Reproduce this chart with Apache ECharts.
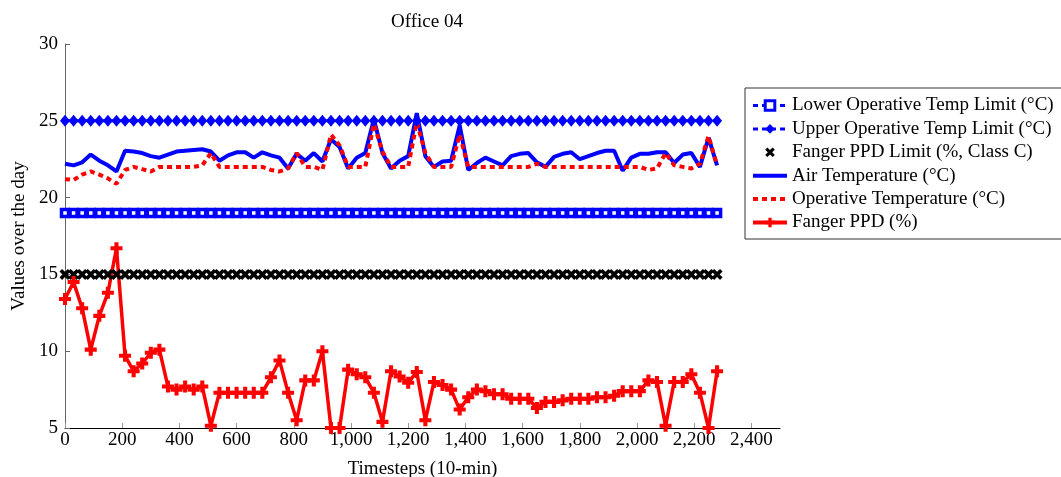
<!DOCTYPE html>
<html lang="en">
<head>
  <meta charset="UTF-8">
  <title>Office 04</title>
  <style>
    html, body { margin: 0; padding: 0; background: #fff; }
    #chart { width: 1061px; height: 477px; }
  </style>
</head>
<body>
  <div id="chart"></div>
  <script src="https://cdn.jsdelivr.net/npm/echarts@6/dist/echarts.min.js"></script>
  <script>
    // timesteps (10-min), one sample every 30 steps
    const timesteps = [
      0, 30, 60, 90, 120, 150, 180, 210, 240, 270, 300, 330, 360, 390, 420, 450,
      480, 510, 540, 570, 600, 630, 660, 690, 720, 750, 780, 810, 840, 870, 900,
      930, 960, 990, 1020, 1050, 1080, 1110, 1140, 1170, 1200, 1230, 1260, 1290,
      1320, 1350, 1380, 1410, 1440, 1470, 1500, 1530, 1560, 1590, 1620, 1650,
      1680, 1710, 1740, 1770, 1800, 1830, 1860, 1890, 1920, 1950, 1980, 2010,
      2040, 2070, 2100, 2130, 2160, 2190, 2220, 2250, 2280
    ]

    const lowerLimit = 19
    const upperLimit = 25
    const ppdLimit = 15

    const airTemp = [
      22.2, 22.1, 22.3, 22.8, 22.4, 22.1, 21.7, 23.05, 23.0, 22.9, 22.7, 22.6,
      22.8, 23.0, 23.05, 23.1, 23.15, 23.0, 22.4, 22.75, 22.95, 22.95, 22.6, 22.95,
      22.75, 22.6, 21.9, 22.85, 22.4, 22.9, 22.35, 23.8, 23.3, 21.9, 22.6, 22.9,
      25.1, 22.9, 21.9, 22.4, 22.7, 25.5, 22.7, 22.0, 22.35, 22.4, 24.7, 21.8,
      22.25, 22.6, 22.35, 22.1, 22.7, 22.85, 22.9, 22.3, 22.0, 22.65, 22.85, 22.95,
      22.5, 22.7, 22.9, 23.05, 23.05, 21.75, 22.6, 22.85, 22.85, 22.95, 22.95, 22.25,
      22.8, 22.9, 22.0, 23.9, 22.1
    ]

    const operativeTemp = [
      21.2, 21.15, 21.5, 21.7, 21.5, 21.25, 20.9, 21.8, 22.0, 21.85, 21.7, 22.0,
      22.0, 22.0, 22.0, 22.0, 22.1, 22.9, 22.0, 22.0, 22.0, 22.0, 22.0, 22.0,
      21.8, 21.7, 21.9, 22.9, 22.0, 22.0, 21.8, 24.1, 23.4, 22.0, 22.0, 22.0,
      24.8, 23.0, 22.0, 22.0, 22.0, 24.9, 22.9, 22.0, 22.0, 22.0, 24.1, 22.0,
      22.0, 22.0, 22.0, 22.0, 22.0, 22.0, 22.0, 22.2, 22.0, 22.0, 22.0, 22.0,
      22.0, 22.0, 22.0, 22.0, 22.0, 22.0, 22.0, 22.0, 21.8, 21.9, 22.9, 22.1,
      22.0, 21.9, 22.2, 24.0, 22.1
    ]

    const fangerPPD = [
      13.4, 14.5, 12.8, 10.1, 12.3, 13.8, 16.7, 9.7, 8.7, 9.2, 9.9, 10.1,
      7.7, 7.5, 7.7, 7.5, 7.7, 5.15, 7.3, 7.3, 7.3, 7.3, 7.3, 7.3,
      8.3, 9.4, 7.3, 5.5, 8.1, 8.1, 10.0, 5.0, 5.0, 8.8, 8.5, 8.3,
      7.3, 5.4, 8.7, 8.35, 7.95, 8.65, 5.5, 8.0, 7.8, 7.5, 6.2, 7.0,
      7.5, 7.4, 7.2, 7.2, 6.9, 6.9, 6.9, 6.3, 6.7, 6.7, 6.8, 6.9,
      6.9, 6.9, 7.0, 7.0, 7.1, 7.4, 7.4, 7.4, 8.1, 8.0, 5.15, 8.0,
      8.0, 8.5, 7.3, 5.0, 8.7
    ]

    const seriesNames = [
      'Lower Operative Temp Limit (°C)',
      'Upper Operative Temp Limit (°C)',
      'Fanger PPD Limit (%, Class C)',
      'Air Temperature (°C)',
      'Operative Temperature (°C)',
      'Fanger PPD (%)'
    ]

    const FONT = 'Liberation Serif'
    const FS = 19
    const BLUE = '#0000ff'
    const RED = '#ff0000'

    const plusPath = 'path://M3.3,0H6.7V3.3H10V6.7H6.7V10H3.3V6.7H0V3.3H3.3Z'
    const crossPath = 'path://M0,2.3L2.3,0L5,2.7L7.7,0L10,2.3L7.3,5L10,7.7L7.7,10L5,7.3L2.3,10L0,7.7L2.7,5Z'

    function pairs (values) {
      return timesteps.map((t, i) => [t, values[i]])
    }

    function constant (v) {
      return timesteps.map(t => [t, v])
    }

    const chart = echarts.init(document.getElementById('chart'))

    chart.setOption({
      animation: false,
      textStyle: { fontFamily: FONT },
      title: {
        text: 'Office 04',
        left: 422,
        top: 8,
        textAlign: 'center',
        textStyle: { fontFamily: FONT, fontSize: FS, fontWeight: 'normal', color: '#000' }
      },
      grid: { left: 65, right: 281, top: 44, bottom: 49, outerBoundsMode: 'none' },
      legend: {
        orient: 'vertical',
        left: 745,
        top: 88,
        padding: [8, 8, 7, 6],
        itemGap: 4.4,
        itemWidth: 34,
        itemHeight: 12,
        borderColor: '#333',
        borderWidth: 1,
        textStyle: { fontFamily: FONT, fontSize: FS, color: '#000', lineHeight: 19 },
        data: [
          { name: seriesNames[0], itemStyle: { borderWidth: 3 }, lineStyle: { width: 3 } },
          { name: seriesNames[1], lineStyle: { width: 3 } },
          { name: seriesNames[2] },
          { name: seriesNames[3], itemStyle: { opacity: 0 }, lineStyle: { width: 4 } },
          { name: seriesNames[4], itemStyle: { opacity: 0 }, lineStyle: { width: 4 } },
          { name: seriesNames[5], lineStyle: { width: 4 } }
        ]
      },
      xAxis: {
        type: 'value',
        min: 0,
        max: 2500,
        interval: 200,
        name: 'Timesteps (10-min)',
        nameLocation: 'middle',
        nameGap: 32,
        nameTextStyle: { fontFamily: FONT, fontSize: FS, color: '#000' },
        axisLine: { lineStyle: { color: '#000', width: 1 } },
        axisTick: { inside: true, length: 5, lineStyle: { color: '#999' } },
        axisLabel: {
          fontFamily: FONT, fontSize: FS, color: '#000', margin: 3,
          showMaxLabel: false,
          formatter: v => v.toLocaleString('en-US')
        },
        splitLine: { show: false }
      },
      yAxis: {
        type: 'value',
        min: 5,
        max: 30,
        interval: 5,
        name: 'Values over the day',
        nameLocation: 'middle',
        nameGap: 34,
        nameTextStyle: { fontFamily: FONT, fontSize: FS, color: '#000' },
        axisLine: { show: true, lineStyle: { color: '#666', width: 1 } },
        axisTick: { show: true, inside: true, length: 5, lineStyle: { color: '#666' } },
        axisLabel: { fontFamily: FONT, fontSize: FS, color: '#000', margin: 7 },
        splitLine: { show: false }
      },
      series: [
        {
          name: seriesNames[0],
          type: 'line',
          data: constant(lowerLimit),
          symbol: 'rect',
          symbolSize: 7,
          itemStyle: { color: '#fff', borderColor: BLUE, borderWidth: 3.5 },
          lineStyle: { color: BLUE, width: 3, type: [5, 4] },
          clip: false
        },
        {
          name: seriesNames[1],
          type: 'line',
          data: constant(upperLimit),
          symbol: 'diamond',
          symbolSize: [10, 12],
          itemStyle: { color: BLUE },
          lineStyle: { color: BLUE, width: 3, type: [5, 4] },
          clip: false
        },
        {
          name: seriesNames[2],
          type: 'line',
          data: constant(ppdLimit),
          symbol: crossPath,
          symbolSize: 11,
          itemStyle: { color: '#000' },
          lineStyle: { width: 0, opacity: 0 },
          clip: false
        },
        {
          name: seriesNames[3],
          type: 'line',
          data: pairs(airTemp),
          symbol: 'none',
          lineStyle: { color: BLUE, width: 4 },
          itemStyle: { color: BLUE }
        },
        {
          name: seriesNames[4],
          type: 'line',
          data: pairs(operativeTemp),
          symbol: 'none',
          lineStyle: { color: RED, width: 4, type: [5, 4] },
          itemStyle: { color: RED }
        },
        {
          name: seriesNames[5],
          type: 'line',
          data: pairs(fangerPPD),
          symbol: plusPath,
          symbolSize: 12,
          itemStyle: { color: RED },
          lineStyle: { color: RED, width: 3.5 },
          clip: false
        }
      ]
    })
  </script>
</body>
</html>
